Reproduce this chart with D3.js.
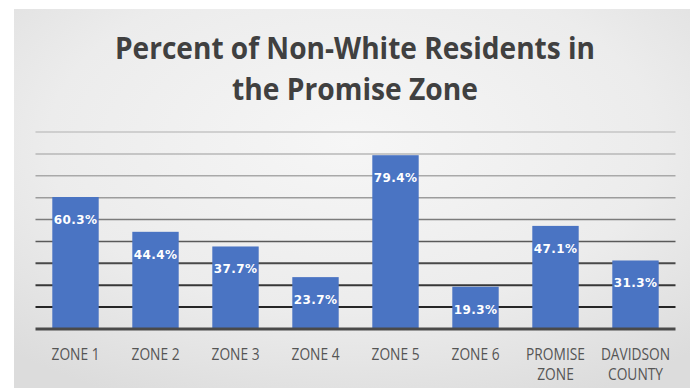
<!DOCTYPE html>
<html>
<head>
<meta charset="utf-8">
<script src="https://cdn.jsdelivr.net/npm/d3@7"></script>
<style>
  html, body { margin: 0; padding: 0; background: #ffffff; }
  svg { display: block; }
</style>
</head>
<body>
<svg id="chart" width="699" height="388"></svg>
<script>
// Chart data
const categories = ["ZONE 1", "ZONE 2", "ZONE 3", "ZONE 4", "ZONE 5", "ZONE 6", "PROMISE ZONE", "DAVIDSON COUNTY"];
const categoryLines = [["ZONE 1"], ["ZONE 2"], ["ZONE 3"], ["ZONE 4"], ["ZONE 5"], ["ZONE 6"], ["PROMISE", "ZONE"], ["DAVIDSON", "COUNTY"]];
const values = [60.3, 44.4, 37.7, 23.7, 79.4, 19.3, 47.1, 31.3];
const gridTicks = [0, 10, 20, 30, 40, 50, 60, 70, 80, 90];
const titleLines = ["Percent of Non-White Residents in", "the Promise Zone"];

const svg = d3.select("#chart");
const W = 699, H = 388;

// Panel background with soft gradient
const defs = svg.append("defs");
const grad = defs.append("radialGradient")
  .attr("id", "panelGrad")
  .attr("cx", "50%").attr("cy", "35%").attr("r", "75%");
grad.append("stop").attr("offset", "0%").attr("stop-color", "#f6f6f6");
grad.append("stop").attr("offset", "60%").attr("stop-color", "#ececec");
grad.append("stop").attr("offset", "100%").attr("stop-color", "#dcdcdc");

svg.append("rect")
  .attr("x", 14).attr("y", 9)
  .attr("width", 676).attr("height", H - 9)
  .attr("fill", "url(#panelGrad)");

// Scales
const plot = { left: 35.5, right: 675.5, top: 132, bottom: 329 };
const x = d3.scaleBand()
  .domain(categories)
  .range([plot.left, plot.right])
  .paddingInner(0.42)
  .paddingOuter(0.21);
const y = d3.scaleLinear()
  .domain([0, 90])
  .range([plot.bottom, plot.top]);

// Gridlines: lighter toward the top, darker toward the base
const gridColor = d3.scaleLinear()
  .domain([10, 40, 60, 90])
  .range(["#262626", "#5a5a5a", "#9c9c9c", "#c4c4c4"]);

svg.append("g")
  .selectAll("line")
  .data(gridTicks.filter(t => t > 0))
  .join("line")
  .attr("x1", plot.left).attr("x2", plot.right)
  .attr("y1", d => y(d)).attr("y2", d => y(d))
  .attr("stroke", d => gridColor(d))
  .attr("stroke-width", d => d <= 30 ? 2 : 1.5);

// Bars
svg.append("g")
  .selectAll("rect")
  .data(values)
  .join("rect")
  .attr("x", (d, i) => x(categories[i]))
  .attr("y", d => y(d))
  .attr("width", x.bandwidth())
  .attr("height", d => y(0) - y(d))
  .attr("fill", "#4a74c3");

// Baseline
svg.append("line")
  .attr("x1", plot.left).attr("x2", plot.right)
  .attr("y1", y(0)).attr("y2", y(0))
  .attr("stroke", "#4a4a4a")
  .attr("stroke-width", 3);

// Value labels inside bar tops
svg.append("g")
  .selectAll("text")
  .data(values)
  .join("text")
  .attr("x", (d, i) => x(categories[i]) + x.bandwidth() / 2)
  .attr("y", d => y(d) + 27)
  .attr("text-anchor", "middle")
  .attr("font-family", "'DejaVu Sans', sans-serif")
  .attr("font-weight", "bold")
  .attr("font-size", 12)
  .attr("letter-spacing", 0.4)
  .attr("fill", "#ffffff")
  .text(d => d.toFixed(1) + "%");

// Category labels
const catG = svg.append("g");
categoryLines.forEach((lines, i) => {
  const cx = x(categories[i]) + x.bandwidth() / 2;
  lines.forEach((ln, j) => {
    catG.append("text")
      .attr("transform", `translate(${cx},${360 + j * 20}) scale(0.86,1)`)
      .attr("text-anchor", "middle")
      .attr("font-family", "'Open Sans', sans-serif")
      .attr("font-size", 16)
      .attr("fill", "#555555")
      .text(ln);
  });
});

// Title
const titleWidths = [480, 246];
titleLines.forEach((t, i) => {
  svg.append("text")
    .attr("x", 355)
    .attr("y", 59 + i * 41)
    .attr("text-anchor", "middle")
    .attr("font-family", "'Open Sans', sans-serif")
    .attr("font-weight", "bold")
    .attr("font-size", 31)
    .attr("fill", "#404040")
    .attr("textLength", titleWidths[i])
    .attr("lengthAdjust", "spacingAndGlyphs")
    .text(t);
});
</script>
</body>
</html>
